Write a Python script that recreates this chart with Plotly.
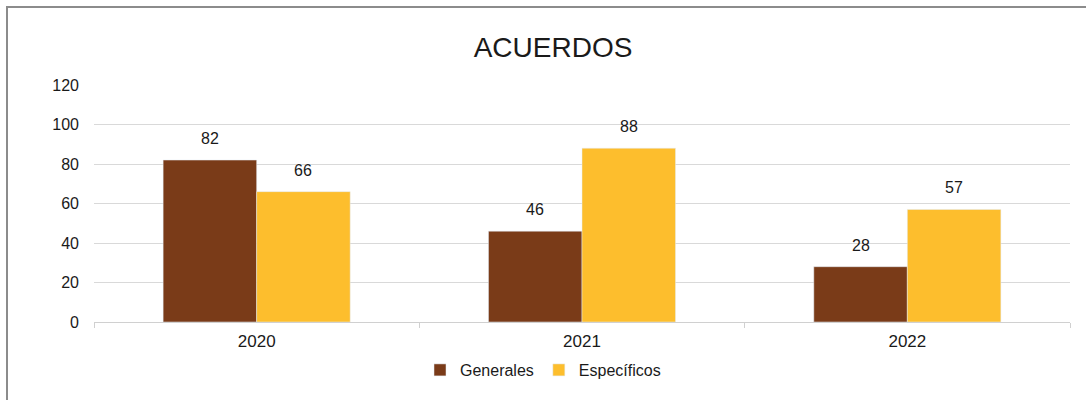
import plotly.graph_objects as go

years = ["2020", "2021", "2022"]
generales = [82, 46, 28]
especificos = [66, 88, 57]

W, H = 1086, 400
L, R, T, B = 94, 16, 85, 78
BARGAP = 0.425

def px_x(p):
    return (p - L) / (W - L - R)

def px_y(p):
    return (H - B - p) / (H - T - B)

series = [("Generales", generales, "#7A3B18"), ("Específicos", especificos, "#FDBE2D")]

fig = go.Figure()
for name, vals, color in series:
    fig.add_trace(go.Bar(x=years, y=vals, name=name, marker_color=color))

# value labels above the bars, placed at each bar's centre in the group
bar_w = (1 - BARGAP) / len(series)
for k, (name, vals, color) in enumerate(series):
    off = (k - (len(series) - 1) / 2) * bar_w
    for i, v in enumerate(vals):
        fig.add_annotation(x=i + off, y=v, xref="x", yref="y", text=str(v),
                           showarrow=False, yanchor="bottom", yshift=11,
                           font=dict(size=16, color="#1a1a1a"))

fig.update_layout(
    width=W, height=H,
    margin=dict(l=L, r=R, t=T, b=B, autoexpand=False),
    paper_bgcolor="white", plot_bgcolor="white",
    font=dict(family="Liberation Sans, Arial, sans-serif", size=16, color="#1a1a1a"),
    title=dict(text="ACUERDOS", x=px_x(553), xref="paper", xanchor="center",
               y=(H - 47) / H, yanchor="middle",
               font=dict(size=28, color="#1a1a1a")),
    barmode="group", bargap=BARGAP, bargroupgap=0,
    showlegend=True,
    legend=dict(orientation="h", x=px_x(543), xanchor="center", y=px_y(370), yanchor="middle",
                font=dict(size=16), itemwidth=30, traceorder="normal",
                tracegroupgap=0),
)
fig.update_yaxes(range=[0, 120], dtick=20, showgrid=True, gridcolor="#d9d9d9", gridwidth=1,
                 zeroline=False, showline=False, ticks="", ticklabelstandoff=14,
                 tickfont=dict(size=16))
fig.update_xaxes(showline=True, linecolor="#d0d0d0", linewidth=1, ticks="outside",
                 tickson="boundaries", ticklen=5, tickcolor="#d0d0d0",
                 tickfont=dict(size=17), ticklabelstandoff=4)

# frame around the picture (left and top edges visible)
fig.add_shape(type="path", xref="paper", yref="paper",
              path=f"M {px_x(7)} {px_y(400)} L {px_x(7)} {px_y(7)} L {px_x(1086)} {px_y(7)}",
              line=dict(color="#8c8c8c", width=2))

# drop the browser's default body margin so the figure sits at the page corner
fig.write_html("out.html", config={"displayModeBar": False},
               post_script="document.body.style.margin='0';")
